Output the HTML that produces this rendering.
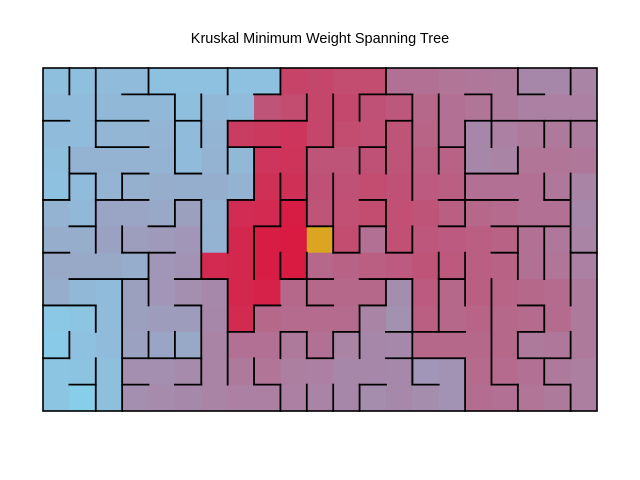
<!DOCTYPE html>
<html><head><meta charset="utf-8"><style>
body{margin:0;background:#fff;width:640px;height:480px;overflow:hidden}
svg{display:block}
</style></head><body>
<svg id="chart" width="640" height="480" xmlns="http://www.w3.org/2000/svg">
<rect width="640" height="480" fill="#fff"/>
<text x="320" y="43" text-anchor="middle" font-family="Liberation Sans, sans-serif" font-size="14.5">Kruskal Minimum Weight Spanning Tree</text>
<g id="cells"></g><g id="walls"></g>
<rect x="43" y="68" width="554" height="343" fill="none" stroke="#000" stroke-width="1.6"/>
</svg>
<script>
const cols = 21;
const rows = 13;
const root = [10, 6];
// normalized tree distance from root per cell (0 = root, 1 = farthest)
const distRows = [
[0.92,0.92,0.9,0.9,0.93,0.93,0.93,0.93,0.93,0.25,0.27,0.3,0.3,0.5,0.5,0.52,0.53,0.55,0.62,0.62,0.6],
[0.9,0.9,0.88,0.88,0.88,0.92,0.88,0.9,0.35,0.3,0.27,0.28,0.33,0.36,0.45,0.5,0.52,0.55,0.58,0.58,0.58],
[0.9,0.9,0.87,0.87,0.86,0.9,0.86,0.22,0.2,0.18,0.27,0.3,0.32,0.35,0.43,0.5,0.62,0.58,0.55,0.55,0.56],
[0.92,0.85,0.85,0.85,0.85,0.9,0.85,0.88,0.18,0.17,0.35,0.35,0.33,0.35,0.4,0.42,0.62,0.6,0.52,0.52,0.53],
[0.93,0.9,0.86,0.84,0.82,0.83,0.83,0.85,0.15,0.15,0.33,0.33,0.3,0.33,0.38,0.4,0.5,0.5,0.5,0.53,0.6],
[0.85,0.88,0.78,0.78,0.8,0.75,0.85,0.13,0.12,0.05,0.35,0.32,0.3,0.32,0.35,0.4,0.45,0.47,0.5,0.5,0.62],
[0.82,0.82,0.76,0.74,0.72,0.7,0.85,0.1,0.05,0.03,0,0.3,0.5,0.32,0.36,0.38,0.4,0.42,0.5,0.53,0.6],
[0.8,0.8,0.8,0.82,0.7,0.68,0.12,0.1,0.05,0.03,0.45,0.42,0.4,0.38,0.35,0.37,0.4,0.42,0.5,0.52,0.58],
[0.82,0.88,0.9,0.75,0.7,0.66,0.63,0.1,0.07,0.45,0.45,0.45,0.45,0.65,0.38,0.45,0.4,0.43,0.45,0.47,0.55],
[0.97,0.95,0.9,0.75,0.73,0.73,0.62,0.12,0.45,0.47,0.47,0.47,0.6,0.67,0.4,0.45,0.43,0.45,0.47,0.47,0.55],
[0.98,0.93,0.9,0.76,0.78,0.8,0.6,0.5,0.5,0.55,0.5,0.6,0.62,0.63,0.45,0.45,0.45,0.45,0.55,0.53,0.55],
[0.95,0.94,0.92,0.66,0.66,0.64,0.6,0.55,0.52,0.57,0.58,0.62,0.62,0.63,0.7,0.68,0.47,0.47,0.5,0.55,0.57],
[0.95,1.0,0.92,0.66,0.64,0.63,0.6,0.58,0.58,0.58,0.6,0.62,0.65,0.63,0.65,0.68,0.48,0.5,0.52,0.55,0.57]
];
const vWalls = [[1,0,1],[2,0,3],[4,0,1],[5,1,4],[6,1,3],[7,0,1],[9,0,1],[10,1,2],[7,2,4],[10,3,6],[1,3,5],[2,4,7],[3,4,5],[9,4,6],[5,5,6],[6,5,8],[8,3,5],[8,6,8],[7,5,7],[3,6,7],[9,7,8],[10,7,9],[4,7,9],[7,8,12],[2,9,10],[3,8,13],[6,9,11],[8,9,10],[9,10,11],[10,10,11],[1,10,11],[4,10,11],[5,10,11],[2,11,13],[6,11,12],[8,11,12],[9,12,13],[10,12,13],
[13,0,1],[11,1,3],[12,1,2],[14,1,5],[15,1,4],[17,1,3],[18,0,1],[20,0,1],[13,2,4],[16,2,6],[19,2,3],[20,2,3],[12,3,4],[18,3,4],[11,4,7],[19,4,5],[20,4,9],[13,5,7],[12,6,7],[14,6,7],[18,6,8],[19,6,8],
[15,7,10],[16,7,9],[13,8,9],[12,9,11],[14,8,12],[17,8,12],[18,12,13],[19,9,10],[18,10,11],[20,10,11],[19,11,12],[20,12,13],[11,10,11],[14,11,12],[16,11,13],[11,12,13],[12,12,13]];
const hWalls = [[3,5,1],[8,9,1],[0,1,2],[2,4,2],[5,6,2],[7,10,2],[2,4,3],[7,9,3],[1,2,4],[3,4,4],[5,6,4],[0,1,5],[2,4,5],[5,6,5],[7,8,5],[9,10,5],[8,9,6],[1,2,6],[4,5,6],
[0,1,7],[3,5,7],[9,10,8],[1,4,8],[5,7,8],[0,2,9],[5,6,9],[8,9,9],[7,8,10],[9,10,10],[10,11,11],[0,1,11],[3,6,11],[1,2,12],[3,4,12],[5,6,12],[8,9,12],
[10,11,3],[12,14,1],[16,17,1],[18,19,1],[13,14,2],[16,21,2],[12,13,3],[15,16,3],[16,18,4],[19,20,5],[12,13,5],[15,18,5],[10,11,6],[12,13,6],[15,16,6],[17,20,6],
[11,12,7],[13,14,7],[15,16,8],[17,18,7],[20,21,7],[10,11,8],[12,14,8],[12,13,9],[10,11,9],[17,18,12],[18,19,9],[18,19,10],[18,20,11],[19,20,12],[13,16,10],[11,12,10],[13,16,11],[14,15,12],[12,13,12]];

const X0=43,Y0=68,W=554,H=343;
const cw=W/cols,ch=H/rows;
const sx=i=>X0+i*cw, sy=j=>Y0+j*ch;
const NS='http://www.w3.org/2000/svg';
const A=[220,20,60],B=[135,206,235];
const cg=document.getElementById('cells');
for(let r=0;r<rows;r++)for(let c=0;c<cols;c++){
 const t=distRows[r][c];
 let fill;
 if(c===root[0]&&r===root[1])fill='#daa520';
 else fill='rgb('+A.map((v,n)=>Math.round(v+(B[n]-v)*t)).join(',')+')';
 const el=document.createElementNS(NS,'rect');
 
 
 el.setAttribute('x',sx(c));el.setAttribute('y',sy(r));
 el.setAttribute('width',cw+0.6);el.setAttribute('height',ch+0.6);
 el.setAttribute('fill',fill);cg.appendChild(el);}
const wg=document.getElementById('walls');
function line(x1,y1,x2,y2){const el=document.createElementNS(NS,'line');
 
 
 el.setAttribute('x1',x1);el.setAttribute('y1',y1);el.setAttribute('x2',x2);el.setAttribute('y2',y2);
 el.setAttribute('stroke','#000');el.setAttribute('stroke-width','1.8');el.setAttribute('stroke-linecap','square');
 wg.appendChild(el);}
vWalls.forEach(([i,a,b])=>line(sx(i),sy(a),sx(i),sy(b)));
hWalls.forEach(([a,b,j])=>line(sx(a),sy(j),sx(b),sy(j)));
</script>
</body></html>
